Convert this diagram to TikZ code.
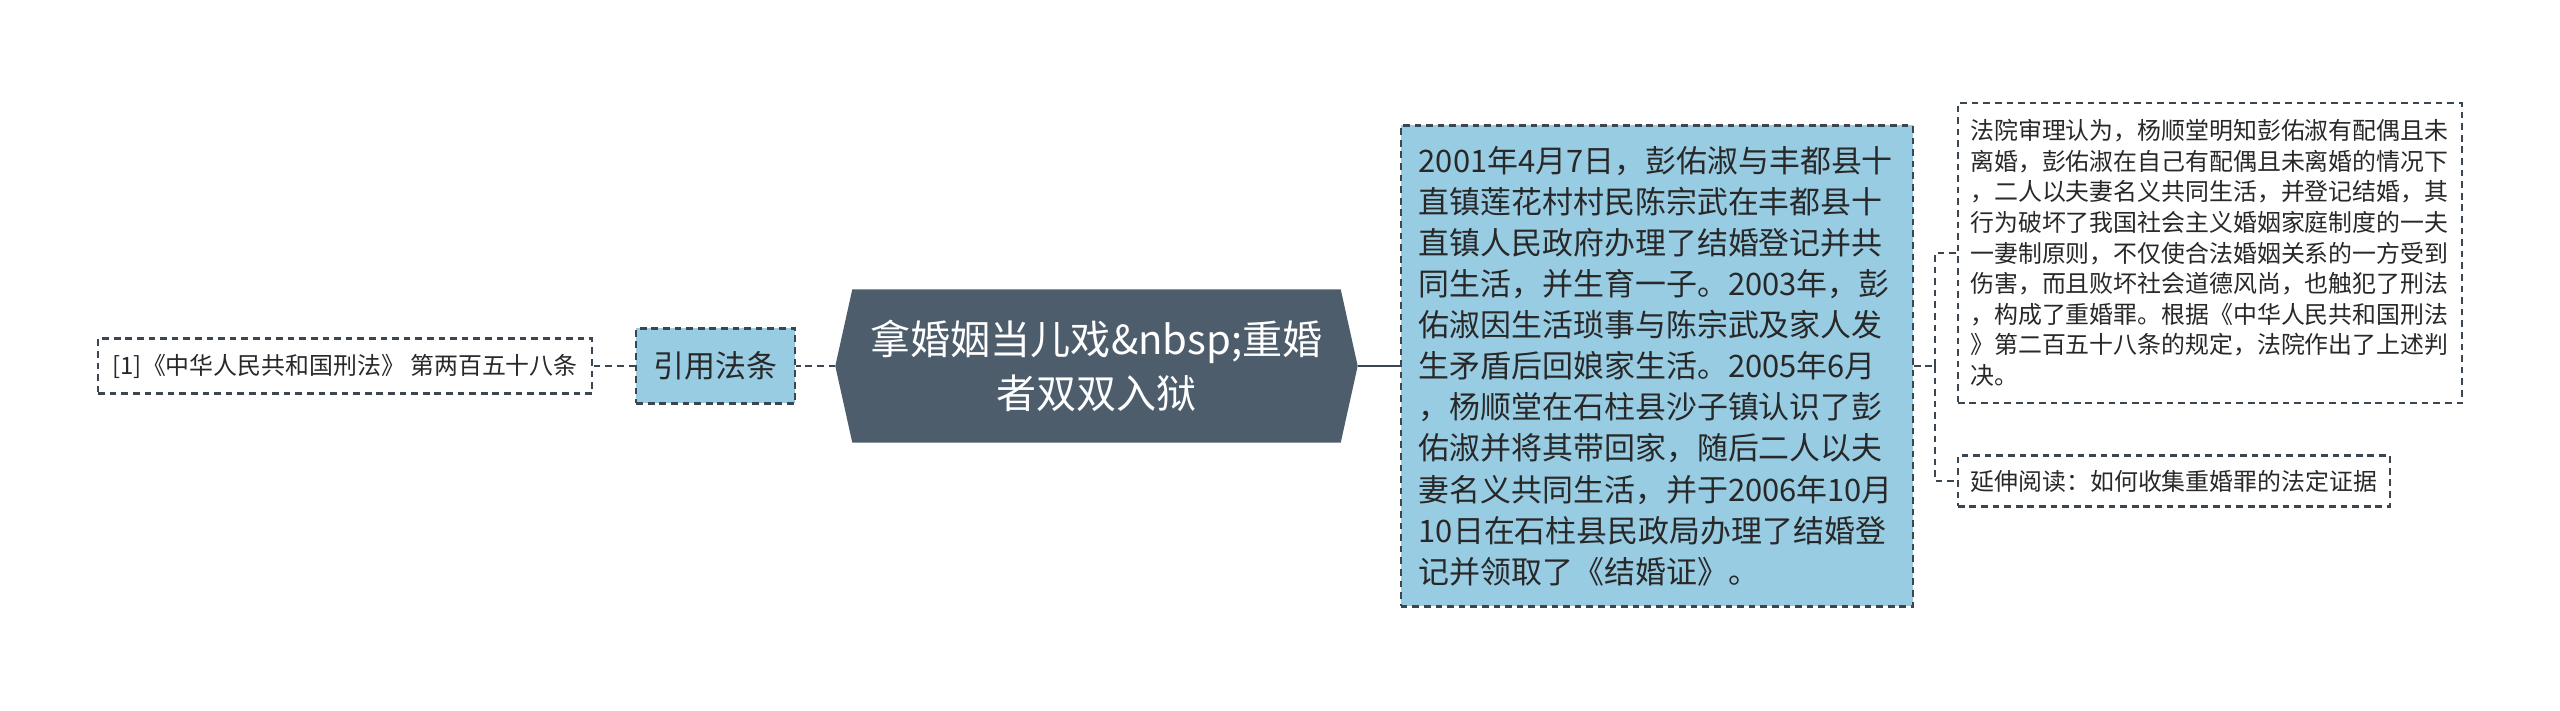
\documentclass[tikz,border=0pt]{standalone}
\usepackage{fontspec}
\setmainfont{Noto Sans CJK SC}
\usepackage{tikz}
\usetikzlibrary{positioning,backgrounds}
\definecolor{TitleSlate}{RGB}{78,93,108}
\definecolor{TopicBlue}{RGB}{152,204,227}
\definecolor{LineGray}{RGB}{60,70,80}
\definecolor{InkGray}{RGB}{40,40,40}

\begin{document}
\begin{tikzpicture}[
    dashbox/.style={draw=LineGray,line width=0.6pt,dash pattern=on 1.9pt off 1.4pt,text=InkGray,inner sep=0pt},
    bluebox/.style={dashbox,fill=TopicBlue},
    link/.style={draw=LineGray,line width=0.6pt,dash pattern=on 1.9pt off 1.4pt},
    smalltext/.style={font=\fontsize{6.8}{8.7}\selectfont},
    bigtext/.style={font=\fontsize{8.8}{11.7}\selectfont}]
    \useasboundingbox (0,0) rectangle (25.6,-7.11);
    % central topic, hexagon drawn behind it
    \node[minimum width=4.87cm,minimum height=1.52cm,text=white,align=center,font=\fontsize{11.4}{15.4}\selectfont] (t) at (10.965,-3.66) {拿婚姻当儿戏\&nbsp;重婚\\者双双入狱};
    \coordinate (tl) at ([xshift=-0.17cm]t.west);
    \coordinate (tr) at ([xshift=0.17cm]t.east);
    \begin{scope}[on background layer]
        \fill[TitleSlate] (t.north west) -- (t.north east) -- (tr) -- (t.south east) -- (t.south west) -- (tl) -- cycle;
    \end{scope}
    % left branch
    \node[bluebox,minimum width=1.59cm,minimum height=0.75cm,bigtext,left=0.39cm of tl] (c) {引用法条};
    \node[dashbox,minimum width=4.94cm,minimum height=0.55cm,smalltext,left=0.42cm of c] (l) {[1]《中华人民共和国刑法》 第两百五十八条};
    % right branch
    \node[bluebox,text width=4.76cm,minimum height=4.81cm,inner xsep=0.18cm,align=left,bigtext,right=0.42cm of tr] (s) {2001年4月7日，彭佑淑与丰都县十\\直镇莲花村村民陈宗武在丰都县十\\直镇人民政府办理了结婚登记并共\\同生活，并生育一子。2003年，彭\\佑淑因生活琐事与陈宗武及家人发\\生矛盾后回娘家生活。2005年6月\\，杨顺堂在石柱县沙子镇认识了彭\\佑淑并将其带回家，随后二人以夫\\妻名义共同生活，并于2006年10月\\10日在石柱县民政局办理了结婚登\\记并领取了《结婚证》。};
    \coordinate (f) at ([xshift=0.21cm]s.east);
    \node[dashbox,text width=4.79cm,minimum height=3.0cm,inner xsep=0.125cm,align=left,smalltext,right=0.43cm of s.east,yshift=1.13cm] (r) {法院审理认为，杨顺堂明知彭佑淑有配偶且未\\离婚，彭佑淑在自己有配偶且未离婚的情况下\\，二人以夫妻名义共同生活，并登记结婚，其\\行为破坏了我国社会主义婚姻家庭制度的一夫\\一妻制原则，不仅使合法婚姻关系的一方受到\\伤害，而且败坏社会道德风尚，也触犯了刑法\\，构成了重婚罪。根据《中华人民共和国刑法\\》第二百五十八条的规定，法院作出了上述判\\决。};
    \node[dashbox,minimum width=4.32cm,minimum height=0.51cm,smalltext,right=0.43cm of s.east,yshift=-1.15cm] (m) {延伸阅读：如何收集重婚罪的法定证据};
    \draw[LineGray,line width=0.6pt] (tr) -- (s.west);
    \draw[link] (tl) -- (c.east);
    \draw[link] (c.west) -- (l.east);
    \draw[link] (s.east) -- (f);
    \draw[link] (f) |- (r.west);
    \draw[link] (f) |- (m.west);
\end{tikzpicture}
\end{document}
